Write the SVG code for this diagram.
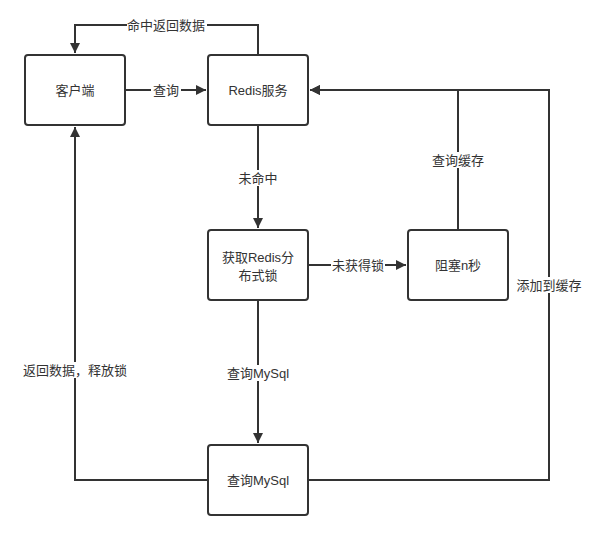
<svg xmlns="http://www.w3.org/2000/svg" width="598" height="540" viewBox="0 0 598 540">
<style>
.box{fill:#fff;stroke:#333;stroke-width:2}
.ln{fill:none;stroke:#333;stroke-width:2}
text{font-family:"Liberation Sans","Noto Sans CJK SC",sans-serif;font-size:13px;fill:#333;text-anchor:middle;dominant-baseline:central}
.bg{fill:#fff}
</style>
<defs>
<marker id="ah" viewBox="0 0 10 10" refX="10" refY="5" markerWidth="5" markerHeight="5" orient="auto" markerUnits="strokeWidth">
<path d="M0,0 L10,5 L0,10 Z" fill="#333"/>
</marker>
</defs>
<rect width="598" height="540" fill="#fff"/>
<g id="connectors">
<path class="ln" d="M258,55 V25 H75 V53" marker-end="url(#ah)"/>
<path class="ln" d="M125,90 H206" marker-end="url(#ah)"/>
<path class="ln" d="M258,125 V228" marker-end="url(#ah)"/>
<path class="ln" d="M308,265 H406" marker-end="url(#ah)"/>
<path class="ln" d="M458,230 V90 H310" marker-end="url(#ah)"/>
<path class="ln" d="M258,300 V443" marker-end="url(#ah)"/>
<path class="ln" d="M308,480 H549 V90 H310" marker-end="url(#ah)"/>
<path class="ln" d="M208,480 H75 V127" marker-end="url(#ah)"/>
<rect class="bg" x="127" y="17" width="80" height="16"/>
<text x="166" y="25">命中返回数据</text>
<rect class="bg" x="151" y="82" width="30" height="16"/>
<text x="166" y="90">查询</text>
<rect class="bg" x="237" y="170" width="42" height="16"/>
<text x="258" y="178">未命中</text>
<rect class="bg" x="331" y="257" width="54" height="16"/>
<text x="358" y="265">未获得锁</text>
<rect class="bg" x="427" y="152" width="62" height="16"/>
<text x="458" y="160">查询缓存</text>
<rect class="bg" x="515" y="277" width="68" height="16"/>
<text x="549" y="285">添加到缓存</text>
<rect class="bg" x="21" y="362" width="108" height="16"/>
<text x="75" y="370">返回数据，释放锁</text>
<rect class="bg" x="224" y="365" width="68" height="16"/>
<text x="258" y="373">查询MySql</text>
</g>
<g id="client"><rect class="box" x="25" y="55" width="100" height="70" rx="3"/><text x="75" y="90">客户端</text></g>
<g id="redis"><rect class="box" x="208" y="55" width="100" height="70" rx="3"/><text x="258" y="90">Redis服务</text></g>
<g id="lock"><rect class="box" x="208" y="230" width="100" height="70" rx="3"/><text x="258" y="257">获取Redis分</text><text x="258" y="275">布式锁</text></g>
<g id="block"><rect class="box" x="408" y="230" width="100" height="70" rx="3"/><text x="458" y="265">阻塞n秒</text></g>
<g id="mysql"><rect class="box" x="208" y="445" width="100" height="70" rx="3"/><text x="258" y="480">查询MySql</text></g>
</svg>
